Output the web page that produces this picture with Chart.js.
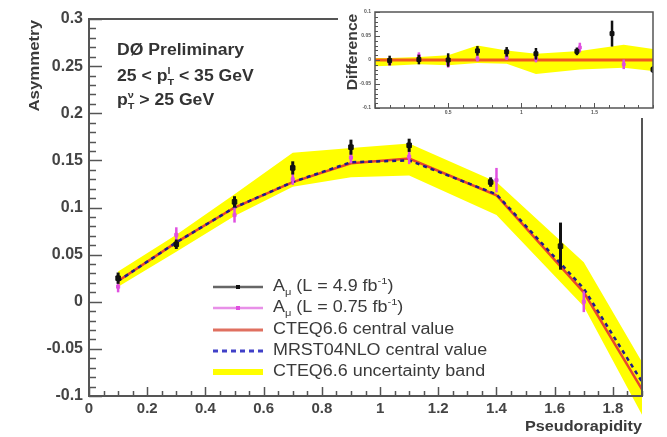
<!DOCTYPE html>
<html>
<head>
<meta charset="utf-8">
<script src="https://cdn.jsdelivr.net/npm/chart.js@4.4.1/dist/chart.umd.min.js"></script>
<style>
  html, body { margin: 0; padding: 0; background: #fff; }
  #wrap { position: relative; width: 667px; height: 437px; overflow: hidden; background: #fff; }
  #main { position: absolute; left: 0; top: 0; }
  #inset { position: absolute; left: 338px; top: 0; background: #fff; }
</style>
</head>
<body>
<div id="wrap">
  <canvas id="main" width="667" height="437"></canvas>
  <canvas id="inset" width="329" height="118"></canvas>
</div>
<script>
// ---- Measured asymmetry, 4.9 fb^-1 ----
const etaHigh  = [0.1, 0.3, 0.5, 0.7, 0.9, 1.1, 1.38, 1.62];
const asymHigh = [0.025, 0.061, 0.106, 0.142, 0.164, 0.166, 0.127, 0.059];
const errHigh  = [0.006, 0.005, 0.006, 0.007, 0.008, 0.007, 0.005, 0.025];

// ---- Measured asymmetry, 0.75 fb^-1 ----
const etaLow  = [0.1, 0.3, 0.5, 0.7, 0.9, 1.1, 1.4, 1.7];
const asymLow = [0.016, 0.071, 0.092, 0.130, 0.153, 0.154, 0.129, 0.000];
const errLow  = [0.006, 0.008, 0.008, 0.006, 0.006, 0.008, 0.013, 0.011];

// ---- Theory predictions ----
const etaTheory = [0.1, 0.3, 0.5, 0.7, 0.9, 1.1, 1.4, 1.7, 1.9];
const cteqCentral = [0.022, 0.063, 0.100, 0.127, 0.147, 0.152, 0.113, 0.010, -0.093];
const mrstCentral = [0.022, 0.063, 0.100, 0.127, 0.148, 0.150, 0.114, 0.014, -0.085];
const cteqUpper   = [0.032, 0.071, 0.114, 0.158, 0.163, 0.168, 0.127, 0.042, -0.064];
const cteqLower   = [0.016, 0.053, 0.091, 0.122, 0.132, 0.134, 0.092, -0.005, -0.120];

// ---- Difference panel (data minus CTEQ6.6 central) ----
const diffEtaHigh = [0.1, 0.3, 0.5, 0.7, 0.9, 1.1, 1.38, 1.62, 1.9];
const diffHigh    = [-0.001, 0.001, 0.000, 0.019, 0.017, 0.013, 0.018, 0.055, -0.020];
const diffErrHigh = [0.010, 0.010, 0.014, 0.010, 0.010, 0.012, 0.008, 0.027, 0.007];
const diffEtaLow  = [0.1, 0.3, 0.5, 0.7, 0.9, 1.1, 1.4, 1.7];
const diffLow     = [-0.006, 0.008, -0.008, 0.003, 0.006, 0.003, 0.026, -0.009];
const diffErrLow  = [0.006, 0.008, 0.008, 0.006, 0.006, 0.008, 0.010, 0.010];
const diffBandEta   = [0, 0.1, 0.3, 0.5, 0.7, 0.9, 1.1, 1.4, 1.7, 1.9];
const diffBandUpper = [0.004, 0.004, 0.006, 0.010, 0.030, 0.020, 0.013, 0.019, 0.032, 0.023];
const diffBandLower = [-0.013, -0.012, -0.009, -0.011, -0.006, -0.008, -0.029, -0.020, -0.016, -0.023];
const diffCentralEta = [0, 1.9];
const diffCentral    = [0, 0];

// ---- Text ----
const xTitle = 'Pseudorapidity';
const yTitle = 'Asymmetry';
const insetTitle = 'Difference';
const headerLines = [
  [{ t: 'DØ Preliminary' }],
  [{ t: '25 < p' }, { t: 'l', sup: true, hold: true }, { t: 'T', sub: true }, { t: ' < 35 GeV' }],
  [{ t: 'p' }, { t: 'ν', sup: true, hold: true }, { t: 'T', sub: true }, { t: ' > 25 GeV' }]
];
const legendLabels = [
  [{ t: 'A' }, { t: 'μ', sub: true }, { t: ' (L = 4.9 fb' }, { t: '-1', sup: true }, { t: ')' }],
  [{ t: 'A' }, { t: 'μ', sub: true }, { t: ' (L = 0.75 fb' }, { t: '-1', sup: true }, { t: ')' }],
  [{ t: 'CTEQ6.6 central value' }],
  [{ t: 'MRST04NLO central value' }],
  [{ t: 'CTEQ6.6 uncertainty band' }]
];

// ---- Colours ----
const YELLOW = '#ffff00';
const CTEQ_RED = '#e8452c';
const MRST_BLUE = '#1c1c8c';
const BLACK = '#111111';
const MAGENTA = '#e050e0';
const AXIS = '#555555';
const TEXT = '#3a3a3a';
const FONT = '"Liberation Sans", Arial, Helvetica, sans-serif';

const pts = (xs, ys) => xs.map((x, i) => ({ x, y: ys[i] }));

// Rich text with sub/superscripts and a slight horizontal stretch
function drawRich(ctx, parts, x, y, size, weight, color, sx, align) {
  ctx.save();
  ctx.fillStyle = color;
  ctx.textBaseline = 'middle';
  ctx.textAlign = 'left';
  let total = 0, held = 0;
  for (const p of parts) {
    const s = (p.sub || p.sup) ? size * 0.62 : size;
    ctx.font = `${weight} ${s}px ${FONT}`;
    const w = ctx.measureText(p.t).width;
    if (p.hold) { held = w; continue; }
    total += Math.max(w, held); held = 0;
  }
  ctx.translate(x - (align === 'right' ? total * sx : 0), y);
  ctx.scale(sx, 1);
  let cx = 0; held = 0;
  for (const p of parts) {
    const s = (p.sub || p.sup) ? size * 0.62 : size;
    ctx.font = `${weight} ${s}px ${FONT}`;
    const dy = p.sub ? size * 0.32 : p.sup ? -size * 0.38 : 0;
    ctx.fillText(p.t, cx, dy);
    const w = ctx.measureText(p.t).width;
    if (p.hold) { held = w; continue; }
    cx += Math.max(w, held); held = 0;
  }
  ctx.restore();
}

// Error bars drawn beneath the markers of each data set
const errorBarPlugin = {
  id: 'errorBars',
  beforeDatasetDraw(chart, args) {
    const ds = chart.data.datasets[args.index];
    if (!ds.errors) return;
    const { ctx, scales: { x, y }, chartArea: a } = chart;
    ctx.save();
    ctx.beginPath();
    ctx.rect(a.left, a.top, a.right - a.left, a.bottom - a.top);
    ctx.clip();
    ctx.strokeStyle = ds.borderColor;
    ctx.lineWidth = ds.errorWidth;
    ds.data.forEach((p, i) => {
      const px = x.getPixelForValue(p.x);
      ctx.beginPath();
      ctx.moveTo(px, y.getPixelForValue(p.y - ds.errors[i]));
      ctx.lineTo(px, y.getPixelForValue(p.y + ds.errors[i]));
      ctx.stroke();
    });
    ctx.restore();
  }
};

// The uncertainty band runs on below the bottom of the frame at large eta
const bandOverflowPlugin = {
  id: 'bandOverflow',
  afterDatasetsDraw(chart) {
    const { ctx, scales: { x, y }, chartArea: a } = chart;
    ctx.save();
    ctx.beginPath();
    ctx.rect(a.left, a.bottom, chart.width - a.left, chart.height - a.bottom);
    ctx.clip();
    ctx.fillStyle = YELLOW;
    ctx.beginPath();
    etaTheory.forEach((e, i) => {
      const px = x.getPixelForValue(e), py = y.getPixelForValue(cteqUpper[i]);
      i ? ctx.lineTo(px, py) : ctx.moveTo(px, py);
    });
    for (let i = etaTheory.length - 1; i >= 0; i--) {
      ctx.lineTo(x.getPixelForValue(etaTheory[i]), y.getPixelForValue(cteqLower[i]));
    }
    ctx.closePath();
    ctx.fill();
    ctx.restore();
  }
};

// Frame with inward-pointing major and minor ticks
function framePlugin(id, c) {
  return {
    id,
    afterDatasetsDraw(chart) {
      const { ctx, chartArea: a, scales: { x, y } } = chart;
      ctx.save();
      ctx.strokeStyle = AXIS;
      ctx.lineWidth = c.tickWidth;
      const isMajor = (v, step) => Math.abs(v / step - Math.round(v / step)) < 1e-6;
      let n = Math.round((y.max - y.min) / c.yMinor);
      for (let i = 0; i <= n; i++) {
        const v = y.min + i * c.yMinor;
        const py = Math.round(y.getPixelForValue(v)) + 0.5;
        const len = isMajor(v, c.yMajor) ? c.yMajorLen : c.yMinorLen;
        ctx.beginPath(); ctx.moveTo(a.left, py); ctx.lineTo(a.left + len, py); ctx.stroke();
      }
      n = Math.round((x.max - x.min) / c.xMinor);
      for (let i = 0; i <= n; i++) {
        const v = x.min + i * c.xMinor;
        const px = Math.round(x.getPixelForValue(v)) + 0.5;
        const len = isMajor(v, c.xMajor) ? c.xMajorLen : c.xMinorLen;
        ctx.beginPath(); ctx.moveTo(px, a.bottom); ctx.lineTo(px, a.bottom - len); ctx.stroke();
      }
      ctx.lineWidth = c.frameWidth;
      ctx.strokeRect(a.left, a.top, a.right - a.left, a.bottom - a.top);
      ctx.restore();
    }
  };
}

// Titles, header text and legend of the main panel
const mainTextPlugin = {
  id: 'mainText',
  afterDraw(chart) {
    const { ctx, chartArea: a } = chart;
    ctx.save();
    ctx.translate(35, a.top + 1);
    ctx.rotate(-Math.PI / 2);
    drawRich(ctx, [{ t: yTitle }], 0, 0, 15, 'bold', TEXT, 1.12, 'right');
    ctx.restore();
    drawRich(ctx, [{ t: xTitle }], a.right, 427, 15, 'bold', TEXT, 1.08, 'right');
    const hy = [51, 77, 101];
    headerLines.forEach((line, i) => drawRich(ctx, line, 117, hy[i], 16, 'bold', '#333', 1.1));
    const lx0 = 213, lx1 = 263, tx = 273;
    const rows = [287, 308, 330, 351, 372];
    const styles = [
      { color: '#666', width: 2.5, marker: BLACK },
      { color: '#e890e8', width: 2.5, marker: MAGENTA },
      { color: '#e07060', width: 3 },
      { color: '#4040c8', width: 3, dash: [5, 4] },
      { color: YELLOW, width: 6 }
    ];
    legendLabels.forEach((label, i) => {
      const s = styles[i], ly = rows[i];
      ctx.save();
      ctx.strokeStyle = s.color;
      ctx.lineWidth = s.width;
      ctx.setLineDash(s.dash || []);
      ctx.beginPath(); ctx.moveTo(lx0, ly); ctx.lineTo(lx1, ly); ctx.stroke();
      if (s.marker) {
        ctx.fillStyle = s.marker;
        ctx.fillRect((lx0 + lx1) / 2 - 2, ly - 2, 4, 4);
      }
      ctx.restore();
      drawRich(ctx, label, tx, ly, 16, 'normal', TEXT, 1.12);
    });
  }
};

const tickFont = (size) => ({ family: FONT, size, weight: 'bold' });

new Chart(document.getElementById('main'), {
  type: 'line',
  data: {
    datasets: [
      { label: 'band upper', data: pts(etaTheory, cteqUpper), borderWidth: 0, pointRadius: 0,
        backgroundColor: YELLOW, fill: '+1', order: 6 },
      { label: 'band lower', data: pts(etaTheory, cteqLower), borderWidth: 0, pointRadius: 0,
        fill: false, order: 7 },
      { label: 'CTEQ6.6 central value', data: pts(etaTheory, cteqCentral), borderColor: CTEQ_RED,
        borderWidth: 2.5, pointRadius: 0, fill: false, order: 4 },
      { label: 'MRST04NLO central value', data: pts(etaTheory, mrstCentral), borderColor: MRST_BLUE,
        borderWidth: 2.5, borderDash: [4, 4], pointRadius: 0, fill: false, order: 3 },
      { label: 'L = 0.75', data: pts(etaLow, asymLow), showLine: false, borderColor: MAGENTA,
        backgroundColor: MAGENTA, pointStyle: 'rect', pointRadius: 2.2, errors: errLow, errorWidth: 2.5, order: 2 },
      { label: 'L = 4.9', data: pts(etaHigh, asymHigh), showLine: false, borderColor: BLACK,
        backgroundColor: BLACK, pointStyle: 'rect', pointRadius: 3.2, errors: errHigh, errorWidth: 3, order: 1 }
    ]
  },
  options: {
    responsive: false,
    animation: false,
    layout: { padding: { top: 19, right: 25, left: 0, bottom: 0 } },
    plugins: { legend: { display: false }, tooltip: { enabled: false } },
    scales: {
      x: {
        type: 'linear', min: 0, max: 1.9,
        grid: { display: false, drawTicks: false, tickLength: 0 },
        border: { display: false },
        ticks: { stepSize: 0.2, includeBounds: false, autoSkip: false, maxRotation: 0, padding: 4,
                 font: tickFont(15), color: '#444', callback: v => String(+v.toFixed(1)) },
        afterFit: s => { s.height = 41; }
      },
      y: {
        type: 'linear', min: -0.1, max: 0.3,
        grid: { display: false, drawTicks: false, tickLength: 0 },
        border: { display: false },
        ticks: { stepSize: 0.05, padding: 6, font: tickFont(16), color: '#444',
                 callback: v => String(+v.toFixed(2)) },
        afterFit: s => { s.width = 89; }
      }
    }
  },
  plugins: [errorBarPlugin, bandOverflowPlugin,
    framePlugin('mainFrame', { tickWidth: 1.5, frameWidth: 2, yMinor: 0.01, yMajor: 0.05, yMajorLen: 13, yMinorLen: 7,
      xMinor: 0.05, xMajor: 0.2, xMajorLen: 9, xMinorLen: 5 }),
    mainTextPlugin]
});

// ---- Difference inset ----
const insetTextPlugin = {
  id: 'insetText',
  afterDraw(chart) {
    const { ctx } = chart;
    ctx.save();
    ctx.translate(15, 52);
    ctx.rotate(-Math.PI / 2);
    ctx.font = `bold 14px ${FONT}`;
    const w = ctx.measureText(insetTitle).width * 1.12;
    drawRich(ctx, [{ t: insetTitle }], -w / 2, 0, 14, 'bold', TEXT, 1.12);
    ctx.restore();
  }
};

new Chart(document.getElementById('inset'), {
  type: 'line',
  data: {
    datasets: [
      { label: 'diff band upper', data: pts(diffBandEta, diffBandUpper), borderWidth: 0, pointRadius: 0,
        backgroundColor: YELLOW, fill: '+1', order: 6 },
      { label: 'diff band lower', data: pts(diffBandEta, diffBandLower), borderWidth: 0, pointRadius: 0,
        fill: false, order: 7 },
      { label: 'CTEQ6.6 central', data: pts(diffCentralEta, diffCentral), borderColor: '#f05a1e',
        borderWidth: 3, pointRadius: 0, fill: false, order: 4 },
      { label: 'L = 0.75', data: pts(diffEtaLow, diffLow), showLine: false, borderColor: MAGENTA,
        backgroundColor: MAGENTA, pointStyle: 'rect', pointRadius: 2, errors: diffErrLow, errorWidth: 2.5, order: 2 },
      { label: 'L = 4.9', data: pts(diffEtaHigh, diffHigh), showLine: false, borderColor: BLACK,
        backgroundColor: BLACK, pointStyle: 'rect', pointRadius: 2.8, errors: diffErrHigh, errorWidth: 2.5, order: 1 }
    ]
  },
  options: {
    responsive: false,
    animation: false,
    layout: { padding: { top: 12, right: 14, left: 0, bottom: 0 } },
    plugins: { legend: { display: false }, tooltip: { enabled: false } },
    scales: {
      x: {
        type: 'linear', min: 0, max: 1.9,
        grid: { display: false, drawTicks: false, tickLength: 0 },
        border: { display: false },
        ticks: { stepSize: 0.5, includeBounds: false, autoSkip: false, maxRotation: 0, padding: 2,
                 font: tickFont(5), color: '#555', callback: v => (v === 0 ? '' : String(+v.toFixed(1))) },
        afterFit: s => { s.height = 10; }
      },
      y: {
        type: 'linear', min: -0.1, max: 0.1,
        grid: { display: false, drawTicks: false, tickLength: 0 },
        border: { display: false },
        ticks: { stepSize: 0.05, padding: 4, font: tickFont(5), color: '#555',
                 callback: v => String(+v.toFixed(2)) },
        afterFit: s => { s.width = 37; }
      }
    }
  },
  plugins: [errorBarPlugin,
    framePlugin('insetFrame', { tickWidth: 1, frameWidth: 1.5, yMinor: 0.01, yMajor: 0.05, yMajorLen: 5, yMinorLen: 3,
      xMinor: 0.1, xMajor: 0.5, xMajorLen: 5, xMinorLen: 3 }),
    insetTextPlugin]
});
</script>
</body>
</html>
